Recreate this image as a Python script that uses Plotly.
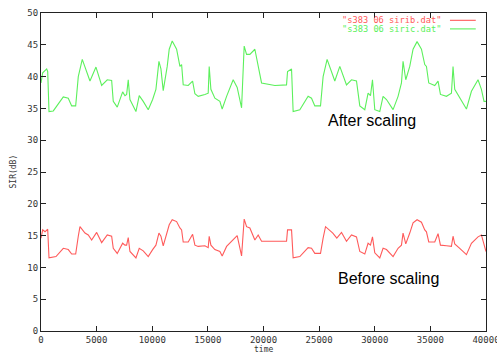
import plotly.graph_objects as go

# After scaling ("s383 06 siric.dat")
green_t = [0, 153, 512, 602, 719, 1105, 2003, 2452, 2758, 3117, 3351, 3710, 4402, 4941, 5453, 5956, 6351, 6495,
           6854, 7339, 7546, 7698, 7842, 7995, 8534, 8830, 9190, 9639, 10034, 10330, 10600, 10780, 10986, 11346,
           11525, 11795, 12190, 12486, 12639, 12783, 13232, 13627, 13834, 14130, 14732, 15029, 15119, 15271, 15630,
           16080, 16286, 16682, 17275, 17634, 18029, 18263, 18478, 18774, 19224, 19826, 21020, 22071, 22161, 22520,
           22664, 23265, 24011, 24316, 24613, 25125, 25359, 25718, 26410, 26859, 27461, 27910, 28359, 28656, 29105,
           29401, 29617, 29796, 30003, 30452, 30749, 31054, 31647, 32096, 32401, 32545, 32788, 33147, 33444, 33803,
           34198, 34494, 34647, 34854, 35393, 35690, 35905, 36444, 36893, 37037, 37190, 37639, 38241, 38690, 39283,
           39588, 39822, 40000]
green_v = [39.0, 40.6, 41.2, 40.8, 34.5, 34.6, 36.8, 36.6, 35.4, 35.4, 40.0, 42.7, 39.3, 41.5, 38.6, 39.5, 39.4, 36.1,
           35.2, 37.6, 37.0, 37.2, 39.5, 36.4, 34.5, 37.0, 36.1, 34.8, 36.4, 38.0, 42.4, 41.2, 37.8, 41.6,
           44.3, 45.6, 44.3, 41.6, 41.9, 38.7, 38.6, 39.3, 37.3, 36.9, 37.2, 37.4, 41.6, 38.0, 36.6,
           36.1, 34.9, 36.9, 39.5, 38.3, 35.1, 44.8, 43.5, 43.5, 44.3, 39.0, 38.6, 38.7, 40.8, 41.2,
           34.5, 34.8, 36.9, 36.6, 35.4, 35.4, 40.0, 42.7, 39.3, 41.6, 38.7, 39.5, 39.3, 35.4, 34.8,
           37.4, 37.0, 39.5, 34.8, 34.5, 36.9, 36.4, 34.8, 36.9, 39.0, 42.4, 39.5, 41.6, 44.3, 45.5,
           44.3, 41.9, 41.6, 39.0, 38.6, 39.3, 37.2, 36.9, 37.4, 41.6, 38.0, 36.6, 34.9, 37.7, 39.5,
           38.0, 36.1, 36.1]

# Before scaling ("s383 06 sirib.dat")
red_t = [0, 153, 359, 602, 719, 1105, 1347, 2003, 2452, 2758, 3117, 3351, 3503, 3953, 4249, 4554, 5004, 5453, 5956,
         6351, 6495, 6854, 7339, 7546, 7698, 7842, 7995, 8534, 8830, 9190, 9639, 10034, 10330, 10600, 10780, 10986,
         11346, 11525, 11795, 12190, 12486, 12639, 12783, 13232, 13627, 13834, 14130, 14732, 15029, 15119, 15271,
         15630, 16080, 16286, 16682, 17275, 17634, 18029, 18263, 18478, 18774, 19224, 19521, 19826, 21020, 22071,
         22161, 22520, 22664, 23265, 24011, 24316, 24613, 25125, 25359, 25575, 26230, 26590, 27012, 27461, 27910,
         28359, 28656, 29105, 29401, 29617, 29796, 30003, 30452, 30749, 31054, 31647, 32096, 32401, 32545, 32788,
         33147, 33444, 33803, 34198, 34494, 34647, 34854, 35393, 35690, 35905, 36444, 36893, 37037, 37190, 37639,
         38241, 38690, 39283, 39588, 39822, 40000]
red_v = [14.6, 15.9, 15.6, 16.0, 11.5, 11.6, 11.7, 13.0, 12.8, 12.1, 12.1, 14.9, 16.4, 15.4, 15.1, 14.3, 15.5, 13.9, 15.1,
         14.9, 13.0, 12.2, 13.8, 13.5, 13.5, 14.7, 12.5, 11.5, 13.0, 12.6, 11.7, 12.8, 13.5, 15.4, 14.9, 13.4,
         15.4, 16.7, 17.5, 17.2, 16.2, 15.9, 14.0, 14.0, 15.2, 13.5, 13.3, 13.4, 13.1, 14.9, 13.5,
         12.8, 12.5, 11.8, 13.3, 14.3, 15.0, 11.8, 17.6, 16.4, 16.2, 14.3, 15.1, 14.1, 14.1, 14.1,
         15.9, 15.9, 11.5, 11.7, 13.1, 13.0, 12.2, 12.2, 14.6, 16.4, 15.4, 14.6, 15.5, 14.1, 15.1,
         14.8, 12.5, 12.1, 13.8, 13.5, 14.8, 12.3, 11.5, 13.0, 12.8, 11.7, 13.0, 13.5, 15.4, 13.7,
         15.4, 17.0, 17.5, 17.1, 15.9, 15.6, 14.0, 14.0, 15.3, 13.5, 13.4, 13.3, 14.9, 13.7, 13.0,
         12.0, 13.8, 14.8, 15.1, 13.5, 12.5]

x_ticks = [0, 5000, 10000, 15000, 20000, 25000, 30000, 35000, 40000]
y_ticks = [0, 5, 10, 15, 20, 25, 30, 35, 40, 45, 50]
series_names = ['"s383 06 sirib.dat"', '"s383 06 siric.dat"']

RED = "#ff5a5a"
GREEN = "#5cf05c"
MONO = "DejaVu Sans Mono"

fig = go.Figure()
fig.add_trace(go.Scatter(x=red_t, y=red_v, mode="lines", line=dict(color=RED, width=1.1),
                         name=series_names[0], showlegend=False))
fig.add_trace(go.Scatter(x=green_t, y=green_v, mode="lines", line=dict(color=GREEN, width=1.1),
                         name=series_names[1], showlegend=False))

axis_common = dict(showgrid=False, zeroline=False, showline=True, linecolor="#222", linewidth=1,
                   mirror="allticks", ticks="inside", ticklen=5, tickcolor="#222",
                   ticklabeloverflow="allow", automargin=False,
                   tickfont=dict(family=MONO, size=9, color="#333"))

fig.update_layout(
    width=497, height=354,
    margin=dict(l=41, r=11, t=13, b=23),
    paper_bgcolor="white", plot_bgcolor="white",
    xaxis=dict(range=[0, 40000], tickvals=x_ticks, ticktext=[str(v) for v in x_ticks], **axis_common),
    yaxis=dict(range=[0, 50], tickvals=y_ticks, ticktext=[str(v) for v in y_ticks], **axis_common),
    showlegend=False,
)

# axis titles
fig.add_annotation(text="time", xref="paper", yref="paper", x=0.5, y=0, yshift=-12,
                   showarrow=False, font=dict(family=MONO, size=8, color="#333"), yanchor="top")
fig.add_annotation(text="SIR(dB)", xref="paper", yref="paper", x=0, xshift=-22, y=0.5, textangle=-90,
                   showarrow=False, font=dict(family=MONO, size=8, color="#333"), xanchor="right")

# legend (gnuplot style: text then line sample)
for i, (name, col) in enumerate(zip(series_names, [RED, GREEN])):
    yy = 0.977 - i * 0.027
    fig.add_annotation(text=name, xref="paper", yref="paper", x=0.903, y=yy, showarrow=False,
                       xanchor="right", yanchor="middle", font=dict(family=MONO, size=8.7, color=col))
    fig.add_shape(type="line", xref="paper", yref="paper", x0=0.919, x1=0.977, y0=yy, y1=yy,
                  line=dict(color=col, width=1.1))

fig.add_annotation(text="After scaling", x=29734, y=33.1, showarrow=False,
                   font=dict(family="Liberation Sans, Arial", size=16, color="black"))
fig.add_annotation(text="Before scaling", x=31261, y=8.2, showarrow=False,
                   font=dict(family="Liberation Sans, Arial", size=16, color="black"))

fig.write_html("out.html")
